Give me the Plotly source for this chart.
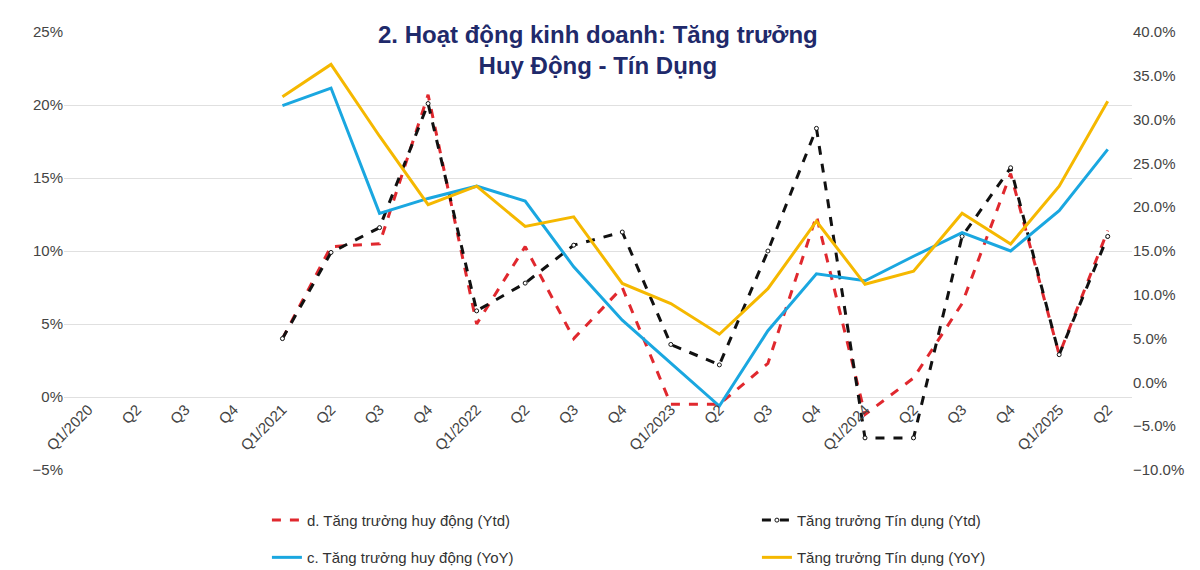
import plotly.graph_objects as go

quarters = ["Q1/2020","Q2","Q3","Q4","Q1/2021","Q2","Q3","Q4","Q1/2022","Q2","Q3","Q4",
            "Q1/2023","Q2","Q3","Q4","Q1/2024","Q2","Q3","Q4","Q1/2025","Q2"]
xs = list(range(len(quarters)))
N = None
huy_dong_ytd = [N,N,N,N,4.0,10.3,10.5,20.7,5.0,10.3,4.0,7.5,-0.5,-0.5,2.3,12.4,-1.2,1.3,6.4,15.3,2.9,11.4]
tin_dung_ytd = [N,N,N,N,4.0,9.9,11.6,20.1,5.9,7.8,10.4,11.3,3.6,2.2,10.0,18.4,-2.8,-2.8,11.0,15.7,2.9,11.0]
huy_dong_yoy = [N,N,N,N,31.6,33.6,19.3,21.0,22.4,20.7,13.2,7.1,2.2,-2.7,5.9,12.4,11.6,14.4,17.1,15.0,19.6,26.6]
tin_dung_yoy = [N,N,N,N,32.6,36.3,28.1,20.3,22.4,17.8,18.9,11.3,9.0,5.5,10.7,18.4,11.2,12.7,19.3,15.8,22.4,32.1]

fig = go.Figure()
fig.add_trace(go.Scatter(x=xs, y=huy_dong_ytd, name="d. Tăng trưởng huy động (Ytd)",
    mode="lines", line=dict(color="#e0282e", width=3, dash="dash"), legend="legend"))
fig.add_trace(go.Scatter(x=xs, y=tin_dung_ytd, name="Tăng trưởng Tín dụng (Ytd)",
    mode="lines+markers", line=dict(color="#111111", width=3, dash="dash"),
    marker=dict(size=4, color="white", line=dict(color="#111", width=1)), legend="legend"))
fig.add_trace(go.Scatter(x=xs, y=huy_dong_yoy, name="c. Tăng trưởng huy động (YoY)",
    mode="lines", line=dict(color="#1aa7e0", width=3), yaxis="y2", legend="legend2"))
fig.add_trace(go.Scatter(x=xs, y=tin_dung_yoy, name="Tăng trưởng Tín dụng (YoY)",
    mode="lines", line=dict(color="#f5b800", width=3), yaxis="y2", legend="legend2"))

leg = dict(orientation="h", x=0.19, xanchor="left", yanchor="middle",
           entrywidth=445, entrywidthmode="pixels", font=dict(size=15, color="#333"),
           bgcolor="rgba(0,0,0,0)")
fig.update_layout(
    width=1200, height=570, paper_bgcolor="white", plot_bgcolor="white",
    margin=dict(l=56, r=76, t=24, b=108, autoexpand=False),
    font=dict(family="Liberation Sans, Arial", size=15, color="#444"),
    xaxis=dict(tickmode="array", tickvals=xs, ticktext=quarters, tickangle=-45,
               range=[-0.5, len(xs)-0.5], anchor="free", position=1/6,
               showgrid=False, zeroline=False, showline=False, ticks=""),
    yaxis=dict(range=[-5, 25], dtick=5, ticksuffix="%", showgrid=True,
               gridcolor="#e0e0e0", zeroline=False, showline=False),
    yaxis2=dict(range=[-10, 40], dtick=5, tickformat=".1f", ticksuffix="%",
                overlaying="y", side="right", showgrid=False, zeroline=False),
    legend=dict(leg, y=-0.115),
    legend2=dict(leg, y=-0.2),
    annotations=[dict(text="<b>2. Hoạt động kinh doanh: Tăng trưởng<br>Huy Động - Tín Dụng</b>",
                      x=0.5, y=1.03, xref="paper", yref="paper", xanchor="center",
                      yanchor="top", showarrow=False,
                      font=dict(size=24, color="#1f2a6b", family="Liberation Sans, Arial"))],
)
fig.write_html("out.html")
